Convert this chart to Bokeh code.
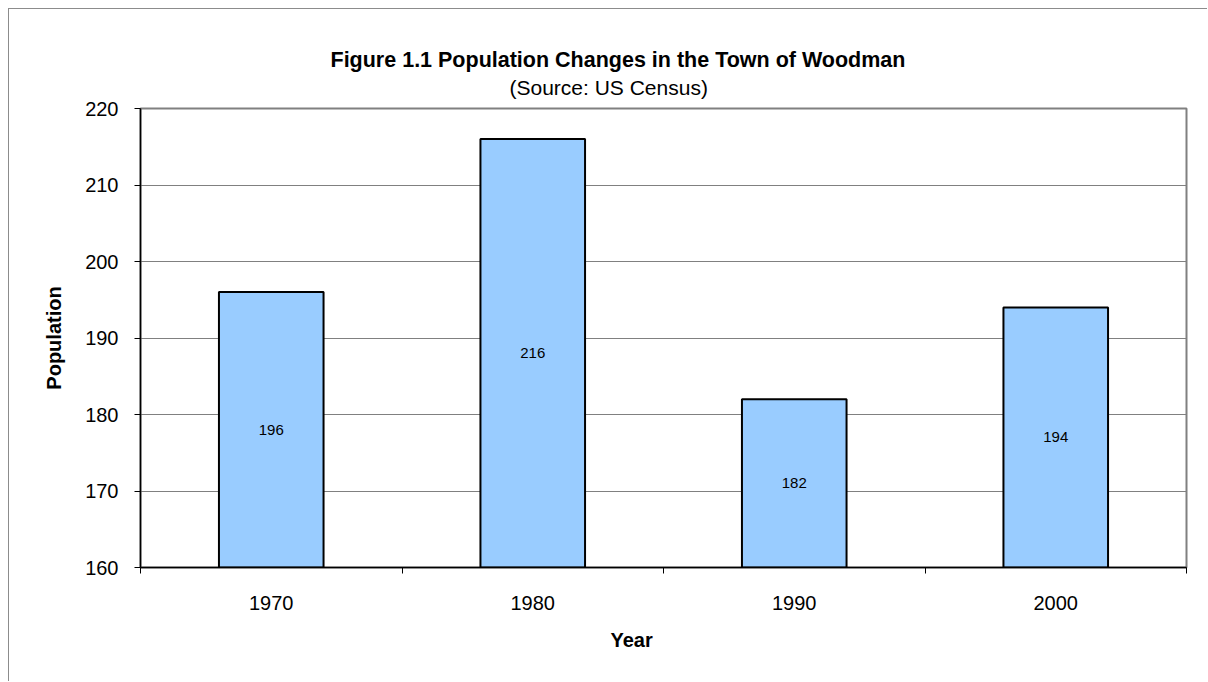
import numpy as np
from bokeh.plotting import figure
from bokeh.models import Range1d, FixedTicker, ColumnDataSource, Title
from bokeh.core.properties import value
from bokeh.embed import file_html
from bokeh.resources import INLINE

years = ["1970", "1980", "1990", "2000"]
population = [196, 216, 182, 194]
y_ticks = [160, 170, 180, 190, 200, 210, 220]
y_min, y_max = 160, 220

FONT = "Liberation Sans"

p = figure(width=1199, height=673, output_backend="svg", toolbar_location=None,
           x_range=Range1d(0, len(years)), y_range=Range1d(y_min, y_max),
           min_border_left=131, min_border_top=99, min_border_right=22,
           min_border_bottom=115, background_fill_color="white",
           border_fill_color="white",
           styles={"margin-left": "8px", "margin-top": "8px",
                   "border-left": "1px solid #8c8c8c", "border-top": "1px solid #8c8c8c"})

xs = np.arange(len(years)) + 0.5
src = ColumnDataSource(dict(x=xs, top=population, years=years,
                            mid=[(v + y_min) / 2 for v in population],
                            lab=[str(v) for v in population]))

p.vbar(x="x", top="top", bottom=y_min, width=0.4, source=src,
       fill_color="#99CCFF", line_color="black", line_width=2)

p.text(x="x", y="mid", text="lab", source=src, text_align="center",
       text_baseline="middle", text_font=value(FONT), text_font_size="15px",
       text_color="black")

# x axis
p.xaxis.ticker = FixedTicker(ticks=list(xs), minor_ticks=list(range(len(years) + 1)))
p.xaxis.major_label_overrides = {float(x): y for x, y in zip(xs, years)}
p.xaxis.major_tick_line_color = None
p.xaxis.major_tick_out = 0
p.xaxis.major_tick_in = 0
p.xaxis.minor_tick_out = 6
p.xaxis.minor_tick_in = 0
p.xaxis.minor_tick_line_color = "black"
p.xaxis.major_label_standoff = 22
p.xgrid.grid_line_color = None

# y axis
p.yaxis.ticker = FixedTicker(ticks=y_ticks)
p.yaxis.major_tick_out = 6
p.yaxis.major_tick_in = 0
p.yaxis.minor_tick_line_color = None
p.yaxis.major_tick_line_color = "black"
p.yaxis.major_label_standoff = 16
p.yaxis.axis_label = "Population"
p.yaxis.axis_label_standoff = 17
p.yaxis.axis_label_text_font = FONT
p.yaxis.axis_label_text_font_size = "20px"
p.yaxis.axis_label_text_font_style = "bold"
p.yaxis.axis_label_text_color = "black"
p.ygrid.grid_line_color = "#808080"
p.ygrid.grid_line_width = 1

for ax in (p.xaxis, p.yaxis):
    ax.axis_line_color = "black"
    ax.axis_line_width = 1.5
    ax.major_label_text_font = FONT
    ax.major_label_text_font_size = "20px"
    ax.major_label_text_color = "black"

p.outline_line_color = "#808080"
p.outline_line_width = 2

# titles: first added "above" sits closest to the frame (a thin spacer first)
p.add_layout(Title(text=" ", text_font_size="1px", standoff=5), "above")
p.add_layout(Title(text="(Source: US Census)", align="left", offset=369,
                   text_font=FONT, text_font_size="21px", text_font_style="normal",
                   text_color="black", standoff=4), "above")
p.add_layout(Title(text="Figure 1.1 Population Changes in the Town of Woodman",
                   align="left", offset=190, text_font=FONT, text_font_size="21.5px",
                   text_font_style="bold", text_color="black", standoff=0), "above")
p.add_layout(Title(text="Year", align="left", offset=470, text_font=FONT,
                   text_font_size="20px", text_font_style="bold",
                   text_color="black", standoff=28), "below")

open("out.html", "w").write(file_html(p, INLINE))
